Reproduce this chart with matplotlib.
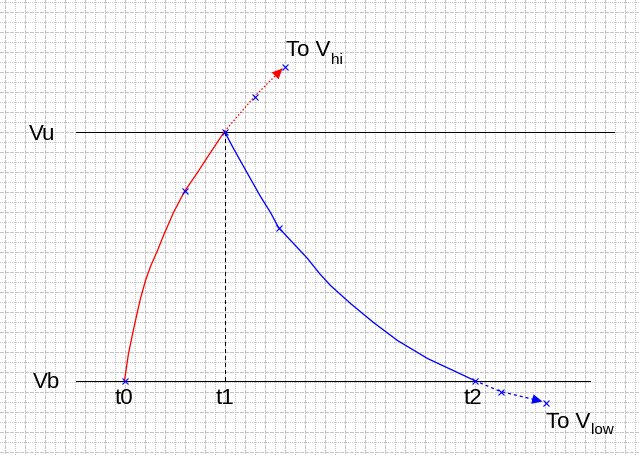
import matplotlib
matplotlib.use("Agg")
import matplotlib.pyplot as plt

plt.rcParams['lines.scale_dashes'] = False

charge_t = [124, 128, 133, 137, 140, 145, 150, 157, 163, 173, 184, 197, 210, 224]
charge_v = [380, 353, 329, 311, 298, 280, 266, 250, 235, 212, 191, 172, 152, 131]
charge_ext_t = [224, 254, 282]
charge_ext_v = [131, 96, 68]
charge_marks_t = [124, 184, 224, 254, 284]
charge_marks_v = [380, 190, 131, 96, 66]

decay_t = [224, 233, 247, 260, 270, 278, 293, 307, 319, 330, 350, 373, 397, 427, 457, 474]
decay_v = [131, 148, 173, 196, 212, 227, 243, 258, 273, 285, 303, 322, 340, 358, 372, 380]
decay_ext_t = [474, 500, 542]
decay_ext_v = [380, 391, 401]
decay_marks_t = [278, 474, 500, 545]
decay_marks_v = [227, 380, 391, 402]

level_names = ["Vu", "Vb"]
level_values = [131, 380]
time_names = ["t0", "t1", "t2"]
time_values = [124, 224, 474]

W, H = 640, 455
fig = plt.figure(figsize=(W / 100, H / 100), dpi=100)
ax = fig.add_axes([0, 0, 1, 1])
ax.set_xlim(-0.5, W - 0.5)
ax.set_ylim(H - 0.5, -0.5)
ax.axis('off')
fig.patch.set_facecolor('white')

px = 0.72  # one pixel in points
gcol = '#c4c4c4'
# grid
for x in range(4, W, 10):
    ls = (0, (3 * px, 2 * px)) if (x - 24) % 20 == 0 else (0, (1 * px, 2 * px))
    ax.plot([x, x], [-1, H], color=gcol, lw=px, ls=ls, antialiased=False, zorder=0)
for y in range(1, H, 10):
    ls = (0, (3 * px, 2 * px)) if (y - 11) % 20 == 0 else (0, (1 * px, 2 * px))
    ax.plot([-1, W], [y, y], color=gcol, lw=px, ls=ls, antialiased=False, zorder=0)

# level lines
ax.plot([75, 613], [level_values[0]] * 2, color='black', lw=px, antialiased=False, zorder=2)
ax.plot([75, 589], [level_values[1]] * 2, color='black', lw=px, antialiased=False, zorder=2)
# t1 dashed vertical
ax.plot([time_values[1]] * 2, level_values, color='black', lw=px,
        ls=(0, (3 * px, 3 * px)), antialiased=False, zorder=2)

# curves
ax.plot(charge_t, charge_v, color='red', lw=px * 1.3, zorder=3)
ax.plot(charge_ext_t, charge_ext_v, color='red', lw=px * 1.3,
        ls=(0, (1.5 * px, 2 * px)), zorder=3)
ax.plot(decay_t, decay_v, color='blue', lw=px * 1.3, zorder=3)
ax.plot(decay_ext_t, decay_ext_v, color='blue', lw=px * 1.3,
        ls=(0, (3 * px, 3 * px)), zorder=3)

# arrow heads
ax.annotate('', xy=(charge_ext_t[-1], charge_ext_v[-1]),
            xytext=(charge_ext_t[-2], charge_ext_v[-2]),
            arrowprops=dict(arrowstyle='-|>,head_length=0.75,head_width=0.35', color='red',
                            lw=0, shrinkA=28, shrinkB=0), zorder=4)
ax.annotate('', xy=(decay_ext_t[-1], decay_ext_v[-1]),
            xytext=(decay_ext_t[-2], decay_ext_v[-2]),
            arrowprops=dict(arrowstyle='-|>,head_length=0.75,head_width=0.35', color='blue',
                            lw=0, shrinkA=25, shrinkB=0), zorder=4)

# markers
ax.plot(charge_marks_t, charge_marks_v, ls='none', marker='x', ms=4, mew=0.8,
        color='#0000ff', zorder=5)
ax.plot(decay_marks_t, decay_marks_v, ls='none', marker='x', ms=4, mew=0.8,
        color='#0000ff', zorder=5)

fam = ['Liberation Sans', 'DejaVu Sans']
fs = 16
ax.text(28, 139, level_names[0], fontsize=fs, family=fam, va='baseline', ha='left')
ax.text(32, 387, level_names[1], fontsize=fs, family=fam, va='baseline', ha='left')
for name, tx, off in zip(time_names, time_values, [-1, 0, -2]):
    ax.text(tx + off, 404, name, fontsize=fs, family=fam, va='baseline', ha='center')

ax.text(286, 56, "To V", fontsize=fs, family=fam, va='baseline', ha='left')
ax.text(331, 63, "hi", fontsize=11, family=fam, va='baseline', ha='left')
ax.text(546, 427, "To V", fontsize=fs, family=fam, va='baseline', ha='left')
ax.text(591, 434, "low", fontsize=11, family=fam, va='baseline', ha='left')

fig.savefig('out.png', dpi=100, facecolor='white')
